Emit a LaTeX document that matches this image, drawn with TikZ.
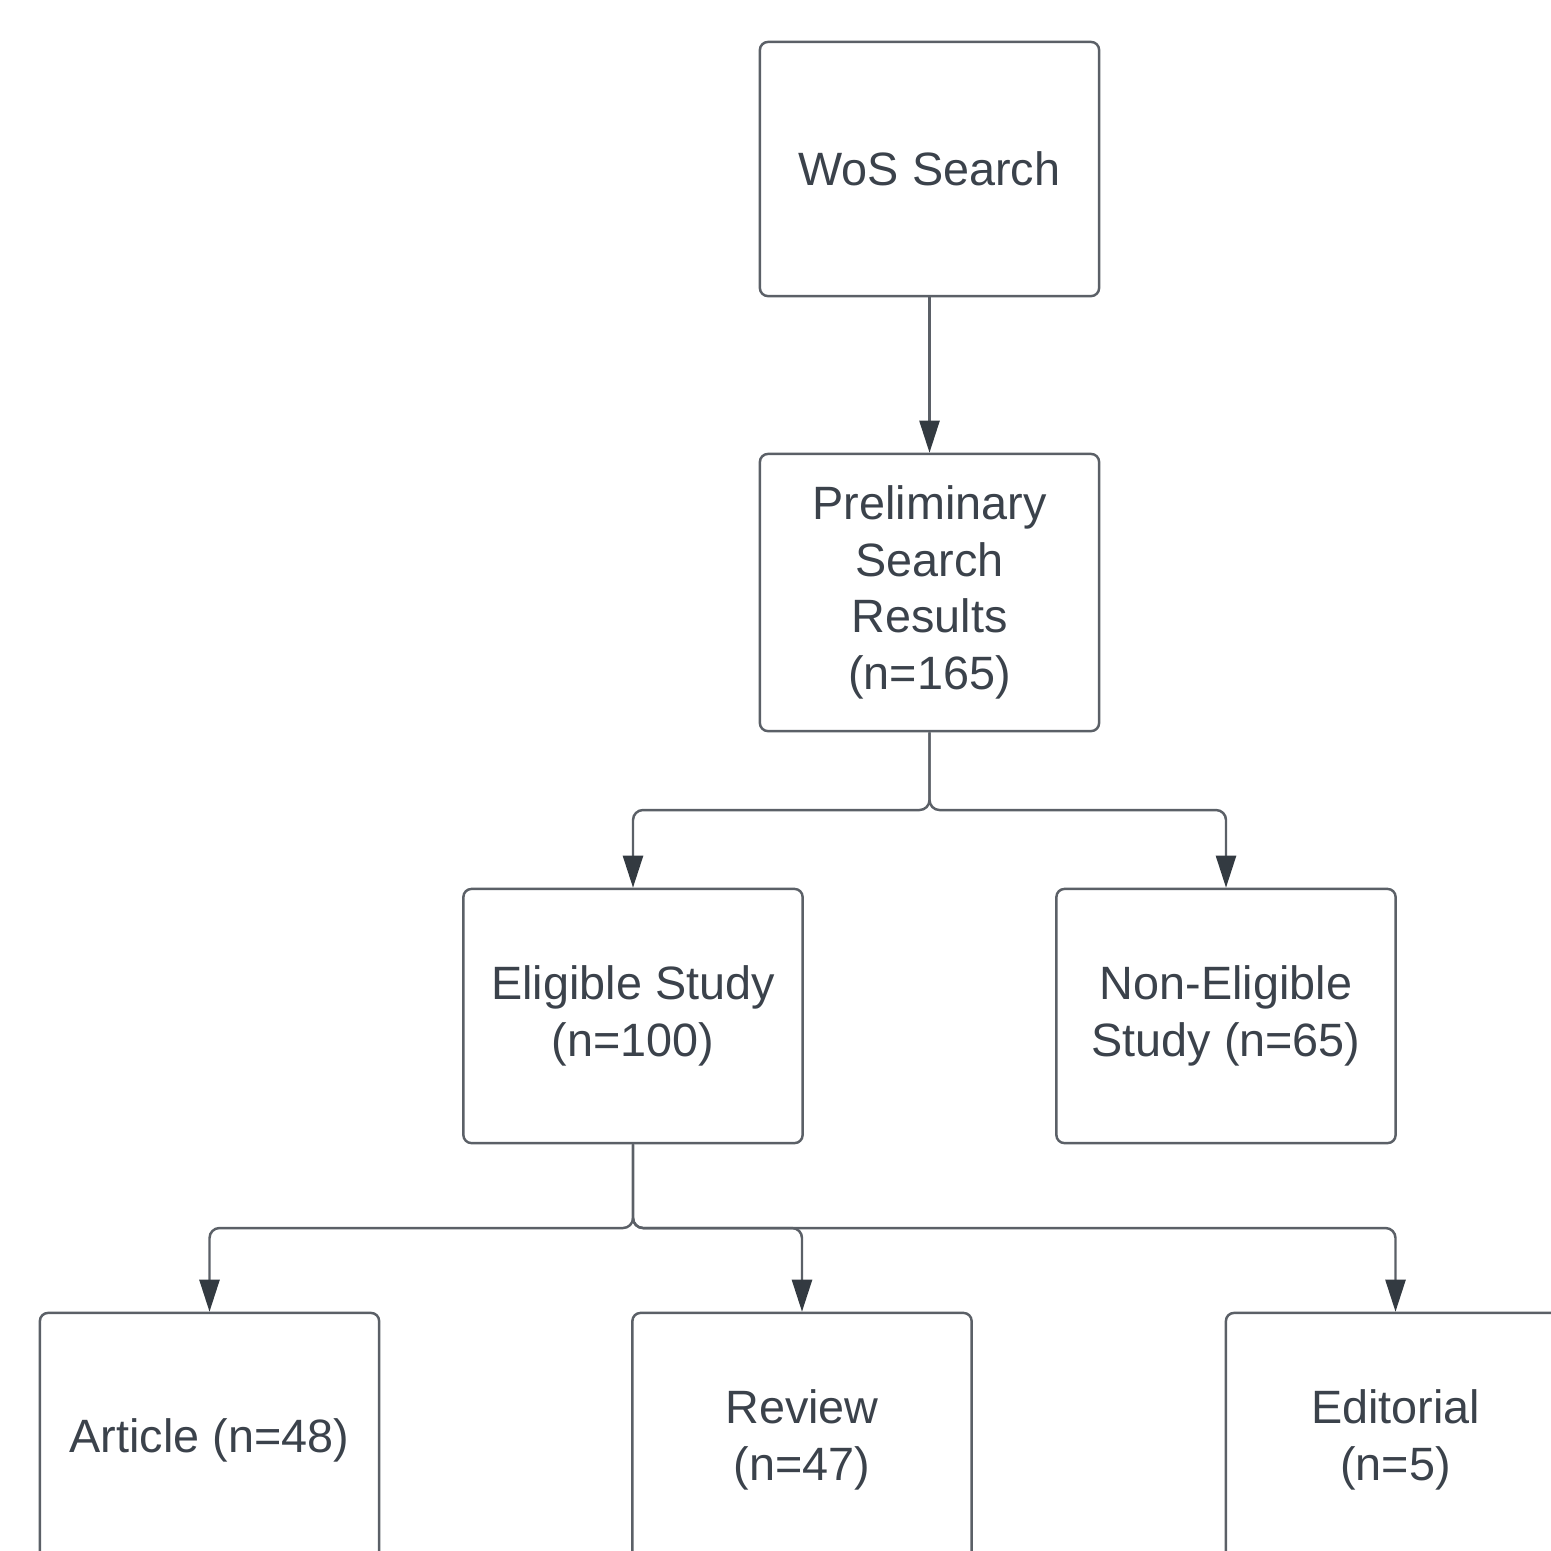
\documentclass[tikz,border=0pt]{standalone}
\usepackage{fontspec}
\setmainfont{Liberation Sans}
\usetikzlibrary{arrows.meta}
\definecolor{boxline}{HTML}{5B6067}
\definecolor{boxtext}{HTML}{3B424B}
\definecolor{tipfill}{HTML}{333A41}
\tikzset{
  stage/.style={draw=boxline, line width=0.7pt, rounded corners=0.08cm,
    minimum width=3.39cm, minimum height=2.54cm, inner sep=0pt,
    align=center, text=boxtext, font=\fontsize{13.3}{16.1}\selectfont},
  link/.style={draw=boxline, line width=0.7pt, rounded corners=0.1cm,
    -{Triangle[width=0.2cm,length=0.32cm,color=tipfill,fill=tipfill]}},
}
\begin{document}
\begin{tikzpicture}[x=0.01cm, y=-0.01cm]
    \useasboundingbox (0,0) rectangle (1551,1550);
    \clip (0,0) rectangle (1551,1550);

    % Search stages
    \node[stage] (wos) at (929.5,169) {WoS Search};
    \node[stage, minimum height=2.77cm] (prelim) at (929.5,592.5)
        {Preliminary\\Search\\Results\\(n=165)};

    % Screening
    \node[stage] (elig) at (633,1016) {Eligible Study\\(n=100)};
    \node[stage] (nonelig) at (1226,1016) {Non-Eligible\\Study (n=65)};

    % Document types
    \node[stage] (article) at (209.5,1440) {Article (n=48)};
    \node[stage] (review) at (802,1440) {Review\\(n=47)};
    \node[stage] (editorial) at (1395.5,1440) {Editorial\\(n=5)};

    % Connectors
    \draw[link] (wos) -- (prelim);

    \coordinate (split1) at (929.5,810);
    \draw[link] (prelim.south) -- (split1) -| (elig.north);
    \draw[link] (prelim.south) -- (split1) -| (nonelig.north);

    \coordinate (split2) at (633,1228);
    \draw[link] (elig.south) -- (split2) -| (article.north);
    \draw[link] (elig.south) -- (split2) -| (review.north);
    \draw[link] (elig.south) -- (split2) -| (editorial.north);
\end{tikzpicture}
\end{document}
